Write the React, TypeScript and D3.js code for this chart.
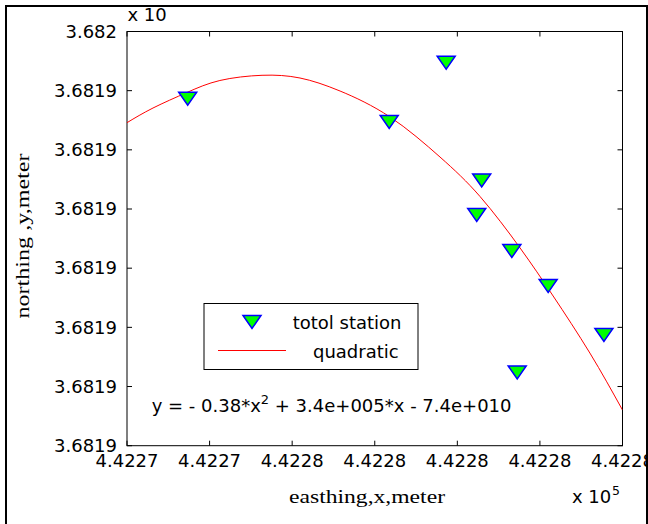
import React from "react";
import * as d3 from "d3";

// ---- data ----
const stationEasting = [442273.47, 442278.35, 442279.73, 442280.59, 442280.47, 442281.32, 442282.2, 442281.45, 442283.55];
const stationNorthing = [3681948.64, 3681944.71, 3681954.73, 3681934.82, 3681928.99, 3681922.9, 3681916.99, 3681902.37, 3681908.71];

const fitEasting = [442272.0, 442272.63, 442273.45, 442274.25, 442275.27, 442276.19, 442277.16, 442278.37, 442279.58, 442280.55, 442281.52, 442282.32, 442283.21, 442284.0];
const fitNorthing = [3681944.59, 3681947.07, 3681949.69, 3681951.72, 3681952.6, 3681952.14, 3681949.94, 3681945.55, 3681938.79, 3681932.11, 3681923.41, 3681915.3, 3681905.66, 3681896.03];

const xTickValues = [442272, 442274, 442276, 442278, 442280, 442282, 442284];
const xTickLabels = ["4.4227", "4.4227", "4.4228", "4.4228", "4.4228", "4.4228", "4.4228"];
const yTickValues = [3681890, 3681900, 3681910, 3681920, 3681930, 3681940, 3681950, 3681960];
const yTickLabels = ["3.6819", "3.6819", "3.6819", "3.6819", "3.6819", "3.6819", "3.6819", "3.682"];

const legendLabels = ["totol station", "quadratic"];
const equationMain = "y = - 0.38*x";
const equationSup = "2";
const equationRest = " + 3.4e+005*x - 7.4e+010";
const xLabel = "easthing,x,meter";
const yLabel = "northing ,y,meter";

// ---- layout ----
const W = 648;
const H = 524;
const L = 127;
const R = 622.5;
const T = 31.5;
const B = 445.7;
const SANS = "'DejaVu Sans', sans-serif";
const SERIF = "'Liberation Serif', 'Times New Roman', serif";
const TICK = 5;

const x = d3.scaleLinear().domain([xTickValues[0], xTickValues[xTickValues.length - 1]]).range([L, R]);
const y = d3.scaleLinear().domain([yTickValues[0], yTickValues[yTickValues.length - 1]]).range([B, T]);

const tri = (cx: number, cy: number) => {
  const p = d3.path();
  p.moveTo(cx - 9, cy - 6.5);
  p.lineTo(cx + 9, cy - 6.5);
  p.lineTo(cx, cy + 6.5);
  p.closePath();
  return p.toString();
};

export default function App() {
  const fitData = fitEasting.map((e, i) => [e, fitNorthing[i]] as [number, number]);
  const line = d3
    .line<[number, number]>()
    .x((d) => x(d[0]))
    .y((d) => y(d[1]))
    .curve(d3.curveNatural);

  return (
    <svg
      width={W}
      height={H}
      style={{ position: "absolute", left: 0, top: 0, background: "#fff" }}
    >
      <rect x={0} y={0} width={W} height={H} fill="#fff" />
      {/* outer frame */}
      <path d={`M6,${H + 5} V6 H647 V${H + 5}`} fill="none" stroke="#000" strokeWidth={2} />

      {/* axes box */}
      <rect x={L} y={T} width={R - L} height={B - T} fill="#fff" stroke="#000" strokeWidth={1} />

      {/* ticks */}
      {xTickValues.map((v, i) => (
        <g key={"xt" + i}>
          <line x1={x(v)} x2={x(v)} y1={B} y2={B - TICK} stroke="#000" />
          <line x1={x(v)} x2={x(v)} y1={T} y2={T + TICK} stroke="#000" />
          <text x={x(v)} y={467} textAnchor="middle" fontFamily={SANS} fontSize={18} fill="#000">
            {xTickLabels[i]}
          </text>
        </g>
      ))}
      {yTickValues.map((v, i) => (
        <g key={"yt" + i}>
          <line x1={L} x2={L + TICK} y1={y(v)} y2={y(v)} stroke="#000" />
          <line x1={R} x2={R - TICK} y1={y(v)} y2={y(v)} stroke="#000" />
          <text x={117} y={y(v) + 6.3} textAnchor="end" fontFamily={SANS} fontSize={18} fill="#000">
            {yTickLabels[i]}
          </text>
        </g>
      ))}

      {/* fit curve */}
      <clipPath id="plotclip">
        <rect x={L} y={T} width={R - L} height={B - T} />
      </clipPath>
      <path d={line(fitData) || ""} fill="none" stroke="#ff0000" strokeWidth={1} clipPath="url(#plotclip)" />

      {/* station markers */}
      {stationEasting.map((e, i) => (
        <path
          key={"m" + i}
          d={tri(x(e), y(stationNorthing[i]))}
          fill="#00ff00"
          stroke="#0000ff"
          strokeWidth={1.5}
          strokeLinejoin="miter"
        />
      ))}

      {/* legend */}
      <rect x={204} y={303.5} width={214} height={66} fill="#fff" stroke="#000" strokeWidth={1} />
      <path d={tri(252, 322)} fill="#00ff00" stroke="#0000ff" strokeWidth={1.5} />
      <text x={292.7} y={329} fontFamily={SANS} fontSize={18} fill="#000">
        {legendLabels[0]}
      </text>
      <line x1={218} x2={286} y1={350.5} y2={350.5} stroke="#ff0000" strokeWidth={1} />
      <text x={313} y={358} fontFamily={SANS} fontSize={18} fill="#000">
        {legendLabels[1]}
      </text>

      {/* equation */}
      <text x={151.7} y={411.5} fontFamily={SANS} fontSize={18} fill="#000">
        {equationMain}
        <tspan fontSize={13} dy={-8}>{equationSup}</tspan>
        <tspan dy={8}>{equationRest}</tspan>
      </text>

      {/* exponent labels */}
      <text x={127.5} y={21} fontFamily={SANS} fontSize={18} fill="#000">
        x 10
      </text>
      <text x={572} y={503} fontFamily={SANS} fontSize={18} fill="#000">
        x 10
      </text>
      <text x={612} y={494.5} fontFamily={SANS} fontSize={12.5} fill="#000">
        5
      </text>

      {/* axis labels */}
      <text
        x={367}
        y={503}
        textAnchor="middle"
        fontFamily={SERIF}
        fontSize={19}
        textLength={156}
        lengthAdjust="spacingAndGlyphs"
        fill="#000"
      >
        {xLabel}
      </text>
      <text
        transform="translate(29,236) rotate(-90)"
        textAnchor="middle"
        fontFamily={SERIF}
        fontSize={18}
        textLength={165}
        lengthAdjust="spacingAndGlyphs"
        fill="#000"
      >
        {yLabel}
      </text>
    </svg>
  );
}
